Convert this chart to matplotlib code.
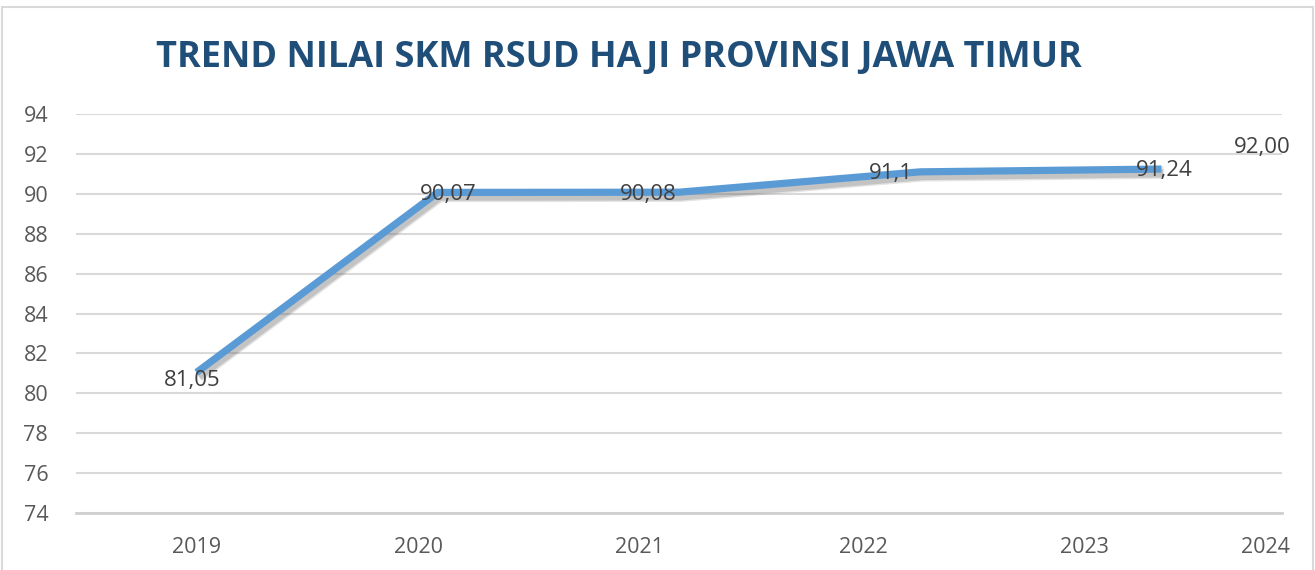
import matplotlib.pyplot as plt
import matplotlib.patheffects as pe
from matplotlib.patches import Rectangle

# data
years = ['2019', '2020', '2021', '2022', '2023', '2024']
skm = [81.05, 90.07, 90.08, 91.1, 91.24]
skm_labels = ['81,05', '90,07', '90,08', '91,1', '91,24']
target_2024 = 92.00
target_label = '92,00'

# label offsets (pixels) and tick positions as they sit in the picture
label_offsets = [(-4, -8), (10, -2), (-31, -2), (-29, -2), (3, -1)]
tick_pos = [0.0, 0.918, 1.838, 2.763, 3.683, 4.43]

plt.rcParams['font.family'] = ['Open Sans', 'DejaVu Sans']

fig = plt.figure(figsize=(13.15, 5.70), dpi=100)
ax = fig.add_axes([0.0578, 0.10, 0.9171, 0.70])

# outer frame
fig.patches.append(Rectangle((2 / 1315, -0.05), 1311 / 1315, 1 - 7 / 570 + 0.05,
                             transform=fig.transFigure, fill=False,
                             edgecolor='#d9d9d9', linewidth=1.5))

x = list(range(len(skm)))
# soft shadow: few faint layers under the line
shadow = [pe.SimpleLineShadow(offset=(1.5, -2.5), shadow_color='#666666', alpha=0.18, linewidth=9),
          pe.SimpleLineShadow(offset=(1.5, -3), shadow_color='#666666', alpha=0.25, linewidth=6),
          pe.Normal()]
ax.plot(x, skm, color='#5B9BD5', linewidth=5.2, solid_capstyle='butt',
        solid_joinstyle='round', zorder=3, path_effects=shadow)

for xi, v, lab, off in zip(x, skm, skm_labels, label_offsets):
    ax.annotate(lab, (xi, v), xytext=off, textcoords='offset pixels',
                ha='center', va='center', fontsize=16, color='#404040', zorder=4)

ax.annotate(target_label, (tick_pos[-1], target_2024), xytext=(-3, 6),
            textcoords='offset pixels', ha='center', va='center',
            fontsize=16, color='#404040', annotation_clip=False)

ax.set_xlim(-0.5, 4.5)
ax.set_ylim(74, 94)
ax.set_yticks(range(74, 95, 2))
ax.set_xticks(tick_pos)
ax.set_xticklabels(years)

ax.grid(axis='y', color='#d9d9d9', linewidth=1.5)
ax.set_axisbelow(True)
for s in ['top', 'right', 'left']:
    ax.spines[s].set_visible(False)
ax.spines['bottom'].set_color('#d0d0d0')
ax.spines['bottom'].set_linewidth(2)

ax.tick_params(axis='y', length=0, pad=20, labelsize=15.5, labelcolor='#595959')
ax.tick_params(axis='x', length=0, pad=17, labelsize=15.5, labelcolor='#595959')

fig.text(0.4707, 0.898, 'TREND NILAI SKM RSUD HAJI PROVINSI JAWA TIMUR',
         ha='center', va='center', fontsize=26, fontweight='bold',
         color='#1F4E79')

fig.savefig('out.png', dpi=100)
